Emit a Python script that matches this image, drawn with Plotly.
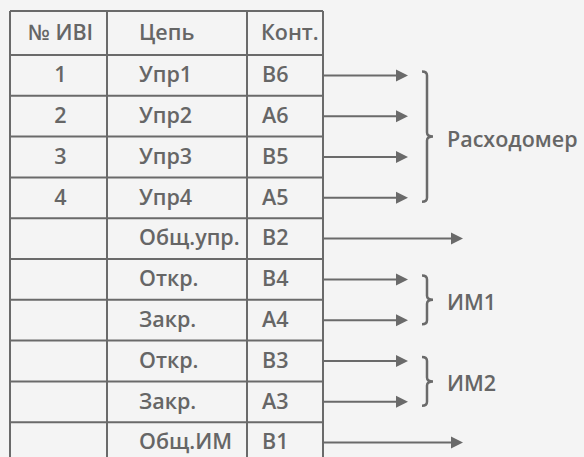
import plotly.graph_objects as go

# ---- data ----
header = ["№ ИВI", "Цепь", "Конт."]
ivi = ["1", "2", "3", "4", "", "", "", "", "", ""]
circuits = ["Упр1", "Упр2", "Упр3", "Упр4", "Общ.упр.", "Откр.", "Закр.", "Откр.", "Закр.", "Общ.ИМ"]
contacts = ["B6", "A6", "B5", "A5", "B2", "B4", "A4", "B3", "A3", "B1"]
arrow_kind = ["short", "short", "short", "short", "long", "short", "short", "short", "short", "long"]
groups = [("Расходомер", 0, 3), ("ИМ1", 5, 6), ("ИМ2", 7, 8)]

# ---- geometry (pixel space) ----
W, H = 584, 457
COL_X = [10, 107, 247, 323]
TOP = 11
HEAD_BOT = 55
ROW_H = 40.8
LINE = "#6a6a6a"
TXT = "#666666"
BG = "#f4f4f4"
FONT = "Open Sans"
FS = 21.5
DY = 1.5

n = len(circuits)
row_edges = [TOP, HEAD_BOT] + [HEAD_BOT + ROW_H * (i + 1) for i in range(n)]
row_mid = [HEAD_BOT + ROW_H * (i + 0.5) for i in range(n)]
text_y = [y + DY for y in row_mid]

shapes = []
for y in row_edges:
    if y <= H + 5:
        shapes.append(dict(type="line", x0=COL_X[0], x1=COL_X[-1], y0=y, y1=y,
                           line=dict(color=LINE, width=2)))
for x in COL_X:
    shapes.append(dict(type="line", x0=x, x1=x, y0=TOP, y1=H + 5,
                       line=dict(color=LINE, width=2)))

for y, k in zip(row_mid, arrow_kind):
    tip = 408 if k == "short" else 463
    shapes.append(dict(type="line", x0=COL_X[-1], x1=tip - 10, y0=y, y1=y,
                       line=dict(color=LINE, width=2)))
    shapes.append(dict(type="path",
                       path=f"M {tip-12},{y-6} L {tip},{y} L {tip-12},{y+6} Z",
                       fillcolor=LINE, line=dict(color=LINE, width=0)))

annotations = []
for label, a, b in groups:
    yt = row_mid[a] - 4
    yb = row_mid[b] + 4
    ym = (yt + yb) / 2
    x0, x1, x2 = 422, 427, 433
    r = 4
    p = (f"M {x0},{yt} Q {x1},{yt} {x1},{yt+r} L {x1},{ym-r} "
         f"Q {x1},{ym} {x2},{ym} Q {x1},{ym} {x1},{ym+r} "
         f"L {x1},{yb-r} Q {x1},{yb} {x0},{yb}")
    shapes.append(dict(type="path", path=p, line=dict(color=LINE, width=2.5)))
    annotations.append(dict(x=445, y=ym + DY, text=label, showarrow=False, xanchor="left",
                            yanchor="middle",
                            font=dict(family=FONT, size=FS, color=TXT, weight=600)))

tf = dict(family=FONT, size=FS, color=TXT, weight=600)
fig = go.Figure()
hy = (TOP + HEAD_BOT) / 2 + DY
fig.add_trace(go.Scatter(x=[(COL_X[0] + COL_X[1]) / 2 + 2], y=[hy], text=[header[0]], mode="text",
                         textposition="middle center", textfont=tf))
fig.add_trace(go.Scatter(x=[139, 261], y=[hy, hy], text=header[1:], mode="text",
                         textposition="middle right", textfont=tf))
fig.add_trace(go.Scatter(x=[(COL_X[0] + COL_X[1]) / 2 + 2] * n, y=text_y, text=ivi, mode="text",
                         textposition="middle center", textfont=tf))
fig.add_trace(go.Scatter(x=[139] * n, y=text_y, text=circuits, mode="text",
                         textposition="middle right", textfont=tf))
fig.add_trace(go.Scatter(x=[262] * n, y=text_y, text=contacts, mode="text",
                         textposition="middle right", textfont=tf))

fig.update_layout(width=W, height=H, margin=dict(l=0, r=0, t=0, b=0),
                  paper_bgcolor=BG, plot_bgcolor=BG, showlegend=False,
                  shapes=shapes, annotations=annotations,
                  xaxis=dict(range=[0, W], visible=False, fixedrange=True),
                  yaxis=dict(range=[H, 0], visible=False, fixedrange=True))
fig.write_html("out.html", config=dict(displayModeBar=False),
               post_script="document.body.style.margin='0';document.body.style.background='#f4f4f4';")
